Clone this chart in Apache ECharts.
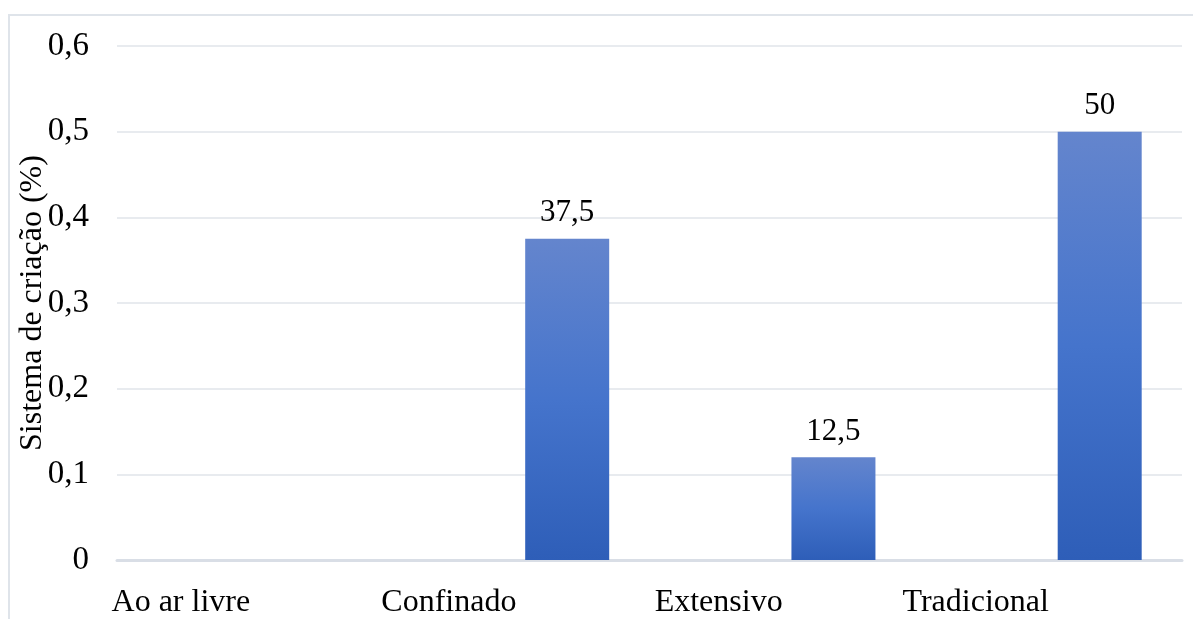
<!DOCTYPE html>
<html>
<head>
<meta charset="utf-8">
<script src="https://cdn.jsdelivr.net/npm/echarts@6/dist/echarts.min.js"></script>
<style>
    html, body { margin: 0; padding: 0; background: #fff; overflow: hidden; }
    #chart { position: absolute; left: 0; top: 0; width: 1193px; height: 619px; }
    .frame {
        position: absolute; left: 8px; top: 14px; width: 1200px; height: 700px;
        border: 2px solid #dfe4ea; pointer-events: none;
    }
</style>
</head>
<body>
<div id="chart"></div>
<div class="frame"></div>
<script>
// categories and values
const categories = ['Ao ar livre', 'Confinado', 'Extensivo', 'Tradicional'];
const barValues = [null, 0.375, 0.12, 0.5];
const barLabels = ['', '37,5', '12,5', '50'];
// the original has an empty first series, which pushes the bars right
const emptySeries = ['-', '-', '-', '-'];
const yTicks = [0, 0.1, 0.2, 0.3, 0.4, 0.5, 0.6];

const font = '"Liberation Serif", "Times New Roman", serif';
const chart = echarts.init(document.getElementById('chart'));

chart.setOption({
    animation: false,
    grid: { left: 117, right: 11, top: 46, bottom: 59, outerBoundsMode: 'none' },
    xAxis: {
        type: 'category',
        data: categories,
        axisLine: { lineStyle: { color: '#d9dee6', width: 3 } },
        axisTick: { show: false },
        axisLabel: {
            color: '#000',
            fontFamily: font,
            fontSize: 32,
            align: 'right',
            margin: 27
        }
    },
    yAxis: {
        type: 'value',
        min: yTicks[0],
        max: yTicks[yTicks.length - 1],
        interval: 0.1,
        name: 'Sistema de criação (%)',
        nameLocation: 'middle',
        nameGap: 68,
        nameMoveOverlap: false,
        nameTextStyle: { color: '#000', fontFamily: font, fontSize: 32 },
        axisLine: { show: false },
        axisTick: { show: false },
        splitLine: { lineStyle: { color: '#e1e5ea', width: 1.5 } },
        axisLabel: {
            color: '#000',
            fontFamily: font,
            fontSize: 33,
            margin: 28,
            formatter: v => String(Math.round(v * 10) / 10).replace('.', ',')
        }
    },
    series: [
        {
            type: 'bar',
            data: emptySeries,
            barWidth: 84,
            barGap: '21%'
        },
        {
            type: 'bar',
            data: barValues,
            barWidth: 84,
            barGap: '21%',
            itemStyle: {
                color: new echarts.graphic.LinearGradient(0, 0, 0, 1, [
                    { offset: 0, color: '#6485cd' },
                    { offset: 0.5, color: '#4574cc' },
                    { offset: 1, color: '#2e5eb8' }
                ])
            },
            label: {
                show: true,
                position: 'top',
                distance: 10,
                color: '#000',
                fontFamily: font,
                fontSize: 31,
                formatter: p => barLabels[p.dataIndex]
            }
        }
    ]
});
</script>
</body>
</html>
